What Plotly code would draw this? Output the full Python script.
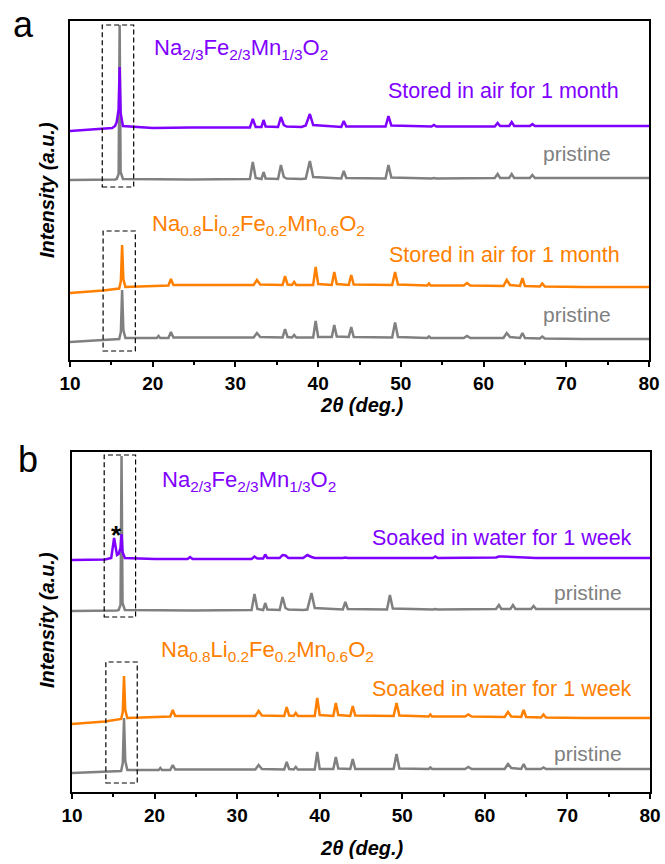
import plotly.graph_objects as go

W, H = 665, 864

# ---- 2theta grids (deg.) ----
NFM_2THETA = [10, 14.0, 14.75, 15.1, 15.45, 15.65, 15.88, 16.0, 16.12, 16.4,
              20, 24.0, 24.3, 24.6, 31.75, 32.1, 32.45, 33.15, 33.4, 33.65,
              35.15, 35.5, 35.85, 36.2, 38.0, 38.5, 39.0, 39.4, 42.8, 43.1,
              43.4, 48.15, 48.5, 48.85, 53.7, 54.0, 54.3, 61.35, 61.7, 62.0,
              63.1, 63.4, 63.7, 65.6, 65.9, 66.2, 72, 80]

NLFM_2THETA = [10, 14.0, 15.95, 16.15, 16.3, 16.45, 16.7, 20, 20.5, 20.7,
               20.9, 21.9, 22.2, 22.5, 30, 32.2, 32.6, 33.0, 35.7, 36.0,
               36.3, 36.85, 37.1, 37.35, 39.4, 39.7, 40.0, 41.65, 41.95, 42.25,
               43.7, 44.0, 44.3, 48.95, 49.3, 49.65, 53.2, 53.4, 53.6, 57.6,
               58.0, 58.4, 62.4, 62.8, 63.2, 64.4, 64.7, 65.0, 66.8, 67.1,
               67.4, 72, 80]

# ---- intensities (a.u.) ----
# panel a: Na2/3Fe2/3Mn1/3O2
NFM_PRISTINE_A = [0, 0, 0, 0, 0.5, 1, 6, 155, 8, 1,
                  0.5, 0.5, 0.5, 0.5, 1, 18, 2, 1, 8, 1.5,
                  1, 15, 3, 1.5, 1, 1.5, 19, 3, 1.5, 9,
                  2, 1.5, 15, 2.5, 1.5, 2, 1.5, 2, 6, 2,
                  2, 6, 2, 2, 5, 2, 2, 2]
NFM_AIR = [0, 2, 2.5, 3, 5, 9, 22, 64, 18, 5,
           3, 3.5, 3.5, 3.5, 3.5, 12, 4, 4, 11, 4.5,
           4, 14, 6, 4.5, 4, 5.5, 17, 6, 4, 10,
           4.5, 4.5, 15, 5.5, 4.5, 6, 4.5, 4.5, 8, 5,
           5, 9, 5, 5, 7, 5, 5, 5]
# panel a: Na0.8Li0.2Fe0.2Mn0.6O2
NLFM_PRISTINE_A = [0, 2, 3, 10, 52, 12, 4, 4, 4, 6,
                   4, 4, 10, 4.5, 4, 4.5, 9, 5, 4.5, 13,
                   5, 4.5, 7, 4.5, 4.5, 21, 5, 5, 17, 5.5,
                   5, 15, 5, 4.5, 19.5, 5, 4, 5.5, 4, 4,
                   6, 4, 4, 9, 5, 4, 9, 4, 3.5, 5.5,
                   3.5, 3, 3]
NLFM_AIR = [0, 2.5, 4.5, 12, 48, 14, 6, 7, 7, 7.5,
            7, 7.5, 14, 8, 8, 8, 13, 8.5, 8, 17,
            8.5, 8, 11, 8, 8, 26, 9, 8, 21, 9,
            8, 18, 8.5, 8, 21, 8.5, 7.5, 9.5, 7.5, 7.5,
            10, 7.5, 7, 13, 8, 7, 15, 7, 6.5, 9.5,
            6.5, 6, 6]

# panel b: Na2/3Fe2/3Mn1/3O2
NFM_PRISTINE_B = [0, 0, 0, 0, 0.5, 1, 6, 155, 8, 1,
                  0.5, 0.5, 0.5, 0.5, 1, 17, 2, 1, 8, 1.5,
                  1, 14, 3, 1.5, 1, 1.5, 18, 3, 1.5, 9,
                  2, 1.5, 16, 2.5, 1.5, 2, 1.5, 2, 6, 2,
                  2, 6, 2, 2, 5, 2, 2, 2]
NFM_WATER = [0, 0.5, 2, 22, 5, 6, 12, 26, 8, 2,
             1, 1, 3, 1, 1, 3.5, 1.5, 1.5, 5.5, 2,
             2, 5, 4.5, 2, 2, 5, 3, 2, 2, 2.5,
             2, 2, 2.5, 2, 2, 3.5, 2, 2.5, 3.5, 3.5,
             3, 3, 2.5, 2, 2, 2, 2, 2]
# panel b: Na0.8Li0.2Fe0.2Mn0.6O2
NLFM_PRISTINE_B = [0, 1.5, 2, 10, 55, 12, 3, 3, 3, 5,
                   3, 3, 8, 3.5, 3, 3.5, 8, 4, 3.5, 11,
                   4, 3.5, 6, 3.5, 3.5, 21, 4, 4, 16, 4.5,
                   4, 14, 4, 4, 19, 4.5, 4, 5.5, 4, 4,
                   6, 4, 4, 9, 5, 4, 9, 4, 4, 5.5,
                   4, 4, 4]
NLFM_WATER = [0, 2.5, 5, 12, 48, 14, 6, 7, 7, 7.5,
              7, 7.5, 14, 8, 8, 8, 13, 8.5, 8, 17,
              8.5, 8, 11, 8, 8, 26, 9, 8, 21, 9,
              8, 18, 8.5, 8, 21, 8.5, 7.5, 9.5, 7.5, 7.5,
              9.5, 7.5, 7, 12, 7.5, 7, 14, 7, 6.5, 9.5,
              6.5, 6, 6]

# vertical stacking offsets of each pattern
OFFSETS_A = {"nlfm_p": 18, "nlfm_air": 67, "nfm_p": 180, "nfm_air": 229}
OFFSETS_B = {"nlfm_p": 19, "nlfm_w": 68, "nfm_p": 181, "nfm_w": 232}

X_TICKS = [10, 20, 30, 40, 50, 60, 70, 80]

VIOLET = "#8000FF"
ORANGE = "#FF8000"
GRAY = "#808080"
FONT = "Arial, Liberation Sans, sans-serif"


def px(x):
    return x / W


def py(y):
    return 1 - y / H


fig = go.Figure()


def pattern(xs, ys, off, color, xa, ya):
    fig.add_trace(go.Scatter(
        x=xs, y=[v + off for v in ys], mode="lines",
        line=dict(color=color, width=2.5),
        xaxis=xa, yaxis=ya, hoverinfo="skip", showlegend=False))


# panel a
pattern(NLFM_2THETA, NLFM_PRISTINE_A, OFFSETS_A["nlfm_p"], GRAY, "x", "y")
pattern(NLFM_2THETA, NLFM_AIR, OFFSETS_A["nlfm_air"], ORANGE, "x", "y")
pattern(NFM_2THETA, NFM_PRISTINE_A, OFFSETS_A["nfm_p"], GRAY, "x", "y")
pattern(NFM_2THETA, NFM_AIR, OFFSETS_A["nfm_air"], VIOLET, "x", "y")
# panel b
pattern(NLFM_2THETA, NLFM_PRISTINE_B, OFFSETS_B["nlfm_p"], GRAY, "x2", "y2")
pattern(NLFM_2THETA, NLFM_WATER, OFFSETS_B["nlfm_w"], ORANGE, "x2", "y2")
pattern(NFM_2THETA, NFM_PRISTINE_B, OFFSETS_B["nfm_p"], GRAY, "x2", "y2")
pattern(NFM_2THETA, NFM_WATER, OFFSETS_B["nfm_w"], VIOLET, "x2", "y2")

xaxis_style = dict(
    range=[10, 80], tickvals=X_TICKS, ticks="outside", ticklen=5, tickwidth=2,
    tickcolor="black", showline=True, linewidth=2, linecolor="black",
    mirror=True, showgrid=False, zeroline=False, automargin=False,
    minor=dict(dtick=5, ticks="outside", ticklen=3, tickwidth=1.5,
               tickcolor="black", showgrid=False),
    tickfont=dict(family=FONT, size=19, color="black", weight="bold"),
)
yaxis_style = dict(
    showticklabels=False, ticks="", showline=True, linewidth=2,
    linecolor="black", mirror=True, showgrid=False, zeroline=False,
    fixedrange=True, automargin=False,
)

fig.update_layout(
    template="none",
    width=W, height=H, autosize=False,
    margin=dict(l=0, r=0, t=0, b=0, pad=0, autoexpand=False),
    paper_bgcolor="white", plot_bgcolor="white",
    xaxis=dict(domain=[px(70), px(649)], anchor="y", **xaxis_style),
    yaxis=dict(domain=[py(360), py(21)], range=[0, 339], anchor="x",
               **yaxis_style),
    xaxis2=dict(domain=[px(72), px(650)], anchor="y2", **xaxis_style),
    yaxis2=dict(domain=[py(792), py(452)], range=[0, 340], anchor="x2",
                **yaxis_style),
)

# dashed boxes around the strongest low-angle reflection
BOX = dict(type="rect", line=dict(color="black", width=1.2, dash="5px,3px"),
           fillcolor="rgba(0,0,0,0)", layer="above")
fig.add_shape(xref="x", yref="y", x0=13.9, x1=17.7, y0=173, y1=335, **BOX)
fig.add_shape(xref="x", yref="y", x0=14.0, x1=17.9, y0=9, y1=129, **BOX)
fig.add_shape(xref="x2", yref="y2", x0=13.9, x1=17.7, y0=175, y1=337, **BOX)
fig.add_shape(xref="x2", yref="y2", x0=14.1, x1=17.9, y0=9, y1=130, **BOX)


def note(text, x, y, color="black", size=21, xanchor="left", yanchor="middle",
         textangle=0, bold=False, italic=False):
    fig.add_annotation(
        text=text, x=px(x), y=py(y), xref="paper", yref="paper",
        xanchor=xanchor, yanchor=yanchor, showarrow=False, textangle=textangle,
        font=dict(family=FONT, size=size, color=color,
                  weight="bold" if bold else "normal",
                  style="italic" if italic else "normal"))


NFM_LABEL = "Na<sub>2/3</sub>Fe<sub>2/3</sub>Mn<sub>1/3</sub>O<sub>2</sub>"
NLFM_LABEL = ("Na<sub>0.8</sub>Li<sub>0.2</sub>Fe<sub>0.2</sub>"
              "Mn<sub>0.6</sub>O<sub>2</sub>")

# panel a labels
note("a", 23, 24, size=36, xanchor="center")
note(NFM_LABEL, 152, 49, VIOLET, 22)
note("Stored in air for 1 month", 621, 91, VIOLET, 21.5, xanchor="right")
note("pristine", 613, 153, GRAY, xanchor="right")
note(NLFM_LABEL, 150, 225, ORANGE, 22)
note("Stored in air for 1 month", 622, 255, ORANGE, 21.5, xanchor="right")
note("pristine", 613, 314, GRAY, xanchor="right")

# panel b labels
note("b", 28, 459, size=36, xanchor="center")
note(NFM_LABEL, 160, 481, VIOLET, 22)
note("Soaked in water for 1 week", 634, 538, VIOLET, 21.5, xanchor="right")
note("pristine", 624, 592, GRAY, xanchor="right")
note(NLFM_LABEL, 159, 651, ORANGE, 22)
note("Soaked in water for 1 week", 634, 689, ORANGE, 21.5, xanchor="right")
note("pristine", 624, 753, GRAY, xanchor="right")
note("*", 116, 535, size=26, xanchor="center", bold=True)

# axis titles
for ycen, ytitle in ((405, 190), (848, 620)):
    note("2<i>θ</i> (deg.)", 362, ycen, size=20, xanchor="center",
         bold=True, italic=True)
    note("Intensity (a.u.)", 47, ytitle, size=20, xanchor="center",
         textangle=-90, bold=True, italic=True)

fig.write_html("out.html")
